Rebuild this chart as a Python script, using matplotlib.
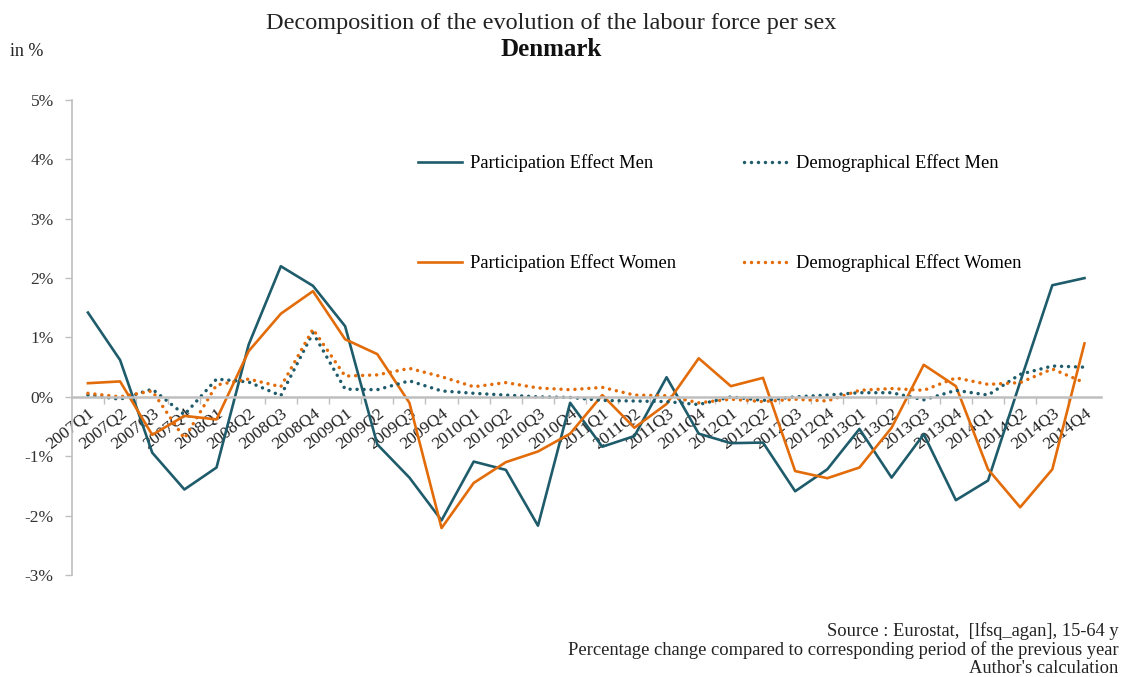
import matplotlib
matplotlib.use("Agg")
import matplotlib.pyplot as plt
from matplotlib.ticker import FixedLocator, FuncFormatter

quarters = [f"{y}Q{q}" for y in range(2007, 2015) for q in range(1, 5)]

part_men = [1.42, 0.62, -0.94, -1.56, -1.19, 0.88, 2.20, 1.87, 1.19, -0.80,
            -1.36, -2.08, -1.09, -1.23, -2.17, -0.10, -0.84, -0.66, 0.33, -0.62,
            -0.78, -0.77, -1.59, -1.22, -0.54, -1.36, -0.63, -1.74, -1.41, 0.25,
            1.88, 2.00]
demo_men = [0.03, -0.04, 0.13, -0.30, 0.30, 0.25, 0.02, 1.08, 0.13, 0.12,
            0.27, 0.10, 0.06, 0.03, 0.00, -0.01, -0.06, -0.07, -0.08, -0.13,
            0.00, -0.06, 0.00, 0.03, 0.07, 0.07, -0.05, 0.11, 0.03, 0.38,
            0.52, 0.50]
part_women = [0.23, 0.26, -0.64, -0.32, -0.38, 0.77, 1.40, 1.78, 0.97, 0.72,
              -0.10, -2.21, -1.45, -1.10, -0.92, -0.62, 0.03, -0.52, -0.12, 0.65,
              0.18, 0.32, -1.25, -1.37, -1.19, -0.52, 0.54, 0.18, -1.22, -1.86,
              -1.22, 0.90]
demo_women = [0.06, 0.00, 0.10, -0.70, 0.20, 0.30, 0.17, 1.14, 0.35, 0.37,
              0.48, 0.34, 0.17, 0.24, 0.15, 0.12, 0.16, 0.03, 0.02, -0.10,
              -0.04, -0.08, -0.04, -0.07, 0.11, 0.14, 0.11, 0.32, 0.21, 0.24,
              0.47, 0.24]

y_ticks = [-3, -2, -1, 0, 1, 2, 3, 4, 5]

TEAL = "#1f5c6b"
ORANGE = "#e36c0a"
GRAY = "#bfbfbf"
SERIF = ["Liberation Serif", "DejaVu Serif"]
DOTS = (0, (0.01, 2.0))

plt.rcParams["font.family"] = SERIF

fig = plt.figure(figsize=(11.23, 6.77), dpi=100)
ax = fig.add_axes([0.064, 0.1507, 0.916, 0.7016])

x = list(range(len(quarters)))
ax.plot(x, part_men, color=TEAL, lw=1.9, label="Participation Effect Men")
ax.plot(x, part_women, color=ORANGE, lw=1.9, label="Participation Effect Women")
ax.plot(x, demo_men, color=TEAL, lw=2.5, linestyle=DOTS,
        dash_capstyle="round", label="Demographical Effect Men")
ax.plot(x, demo_women, color=ORANGE, lw=2.5, linestyle=DOTS,
        dash_capstyle="round", label="Demographical Effect Women")

ax.set_xlim(-0.5, len(quarters) - 0.5)
ax.set_ylim(-3, 5)
ax.set_yticks(y_ticks)
ax.yaxis.set_major_formatter(FuncFormatter(lambda v, p: f"{int(v)}%"))

for s in ["top", "right"]:
    ax.spines[s].set_visible(False)
ax.spines["left"].set_color(GRAY)
ax.spines["left"].set_linewidth(1.2)
ax.spines["bottom"].set_position(("data", 0))
ax.spines["bottom"].set_color(GRAY)
ax.spines["bottom"].set_linewidth(1.8)

ax.set_xticks(x)
ax.set_xticklabels(quarters, rotation=38, ha="right", rotation_mode="anchor",
                   fontsize=12.5)
ax.tick_params(axis="x", which="major", length=0, pad=6, colors="#222222")
ax.xaxis.set_minor_locator(FixedLocator([i + 0.5 for i in range(len(quarters) - 1)]))
ax.tick_params(axis="x", which="minor", length=5, width=1, color=GRAY)
ax.tick_params(axis="y", length=5, width=1, color=GRAY, labelsize=12.5,
               pad=8, labelcolor="#333333")

handles, labels = ax.get_legend_handles_labels()
leg = ax.legend(handles, labels, ncol=2, loc="upper left",
                bbox_to_anchor=(0.336, 0.886), frameon=False, fontsize=13.3,
                labelspacing=4.45, handlelength=2.4, handletextpad=0.43,
                columnspacing=3.7, borderpad=0, borderaxespad=0)

fig.text(0.491, 0.965, "Decomposition of the evolution of the labour force per sex",
         ha="center", va="center", fontsize=17.5, color="#222222")
fig.text(0.491, 0.927, "Denmark", ha="center", va="center", fontsize=18,
         fontweight="bold", color="#111111")
fig.text(0.009, 0.924, "in %", ha="left", va="center", fontsize=13,
         color="#222222")

fig.text(0.996, 0.068, "Source : Eurostat,  [lfsq_agan], 15-64 y", ha="right",
         va="center", fontsize=13.3, color="#222222")
fig.text(0.996, 0.040, "Percentage change compared to corresponding period of the previous year",
         ha="right", va="center", fontsize=13.3, color="#222222")
fig.text(0.996, 0.013, "Author's calculation", ha="right", va="center",
         fontsize=13.3, color="#222222")

fig.savefig("out.png", dpi=100)
